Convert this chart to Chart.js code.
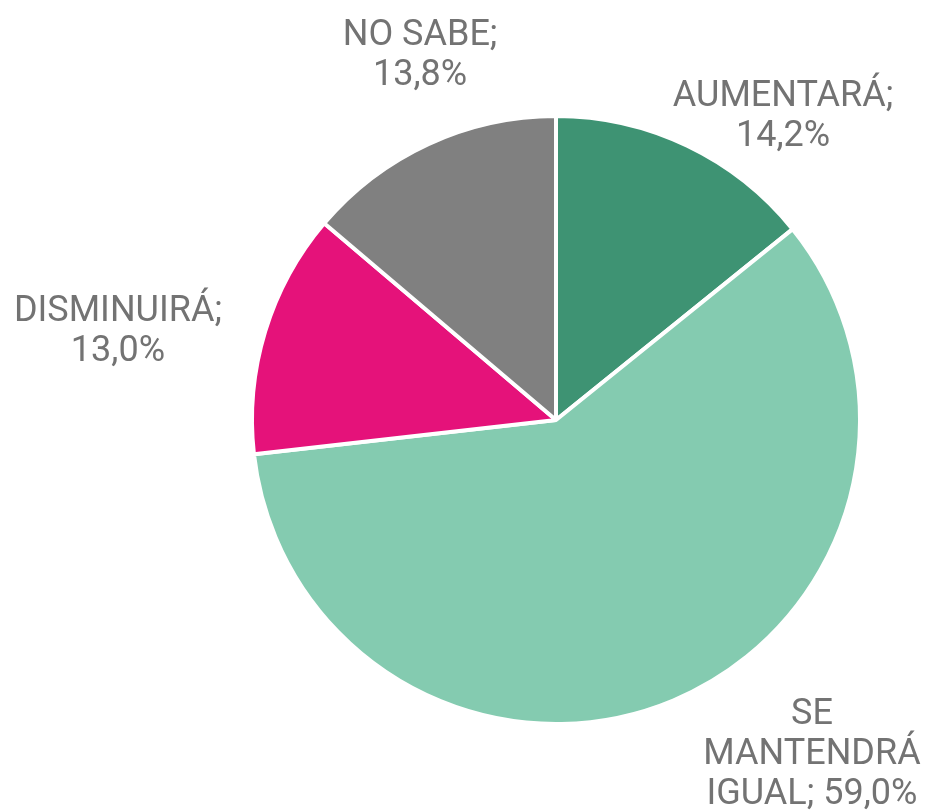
<!DOCTYPE html>
<html>
<head>
<meta charset="utf-8">
<script src="https://cdn.jsdelivr.net/npm/chart.js@4/dist/chart.umd.min.js"></script>
<style>
  html, body { margin: 0; padding: 0; background: #fff; }
  #wrap { width: 933px; height: 811px; position: relative; }
</style>
</head>
<body>
<div id="wrap"><canvas id="pie"></canvas></div>
<script>
// categories and values (percent)
const categories = ['AUMENTARÁ', 'SE MANTENDRÁ IGUAL', 'DISMINUIRÁ', 'NO SABE'];
const values = [14.2, 59.0, 13.0, 13.8];
const sliceColors = ['#3e9373', '#84cbb0', '#e5127a', '#808080'];

// label text lines, per category
const labelLines = [
    ['AUMENTARÁ;', '14,2%'],
    ['SE', 'MANTENDRÁ', 'IGUAL; 59,0%'],
    ['DISMINUIRÁ;', '13,0%'],
    ['NO SABE;', '13,8%']
];
// label block centres, in units of the pie radius from the pie centre
const labelAnchors = [
    [0.747, -0.997],
    [0.842, 1.102],
    [-1.441, -0.289],
    [-0.447, -1.197]
];

const outsideLabels = {
    id: 'outsideLabels',
    afterDatasetsDraw(chart) {
        const ctx = chart.ctx;
        const arc = chart.getDatasetMeta(0).data[0];
        const cx = arc.x, cy = arc.y, r = arc.outerRadius;
        const lineH = 40;
        ctx.save();
        ctx.font = '36px "Roboto", "Open Sans", sans-serif';
        ctx.fillStyle = '#737373';
        ctx.textAlign = 'center';
        ctx.textBaseline = 'middle';
        labelLines.forEach((lines, i) => {
            const x = cx + labelAnchors[i][0] * r;
            const y0 = cy + labelAnchors[i][1] * r - (lines.length - 1) * lineH / 2;
            lines.forEach((t, j) => ctx.fillText(t, x, y0 + j * lineH));
        });
        ctx.restore();
    }
};

new Chart(document.getElementById('pie'), {
    type: 'pie',
    data: {
        labels: categories,
        datasets: [{
            data: values,
            backgroundColor: sliceColors,
            borderColor: '#ffffff',
            borderWidth: 4
        }]
    },
    options: {
        responsive: true,
        maintainAspectRatio: false,
        animation: false,
        layout: {
            padding: { left: 250, right: 71, top: 114, bottom: 85 }
        },
        plugins: {
            legend: { display: false },
            tooltip: { enabled: false }
        }
    },
    plugins: [outsideLabels]
});
</script>
</body>
</html>
